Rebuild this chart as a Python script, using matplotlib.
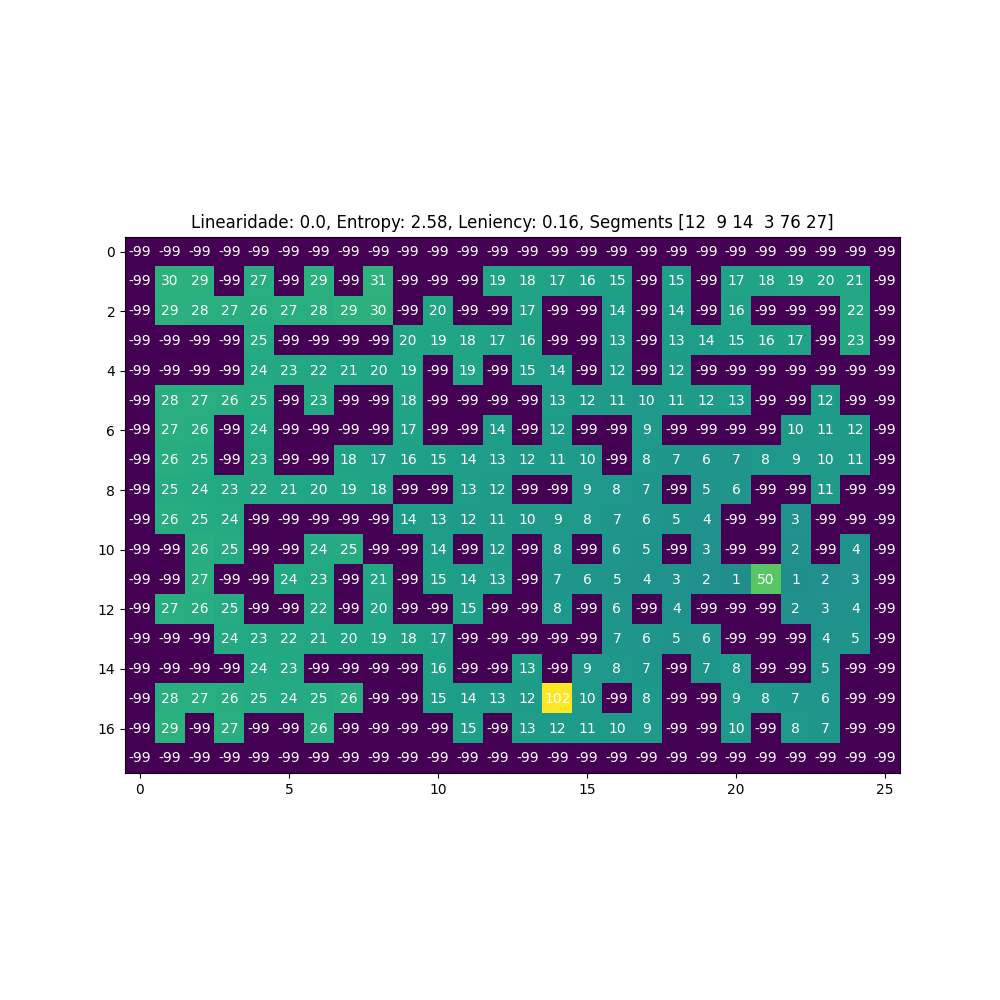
import numpy as np
import matplotlib
matplotlib.use("Agg")
import matplotlib.pyplot as plt

row00 = [-99]*26
row01 = [-99, 30, 29, -99, 27, -99, 29, -99, 31, -99, -99, -99, 19, 18, 17, 16, 15, -99, 15, -99, 17, 18, 19, 20, 21, -99]
row02 = [-99, 29, 28, 27, 26, 27, 28, 29, 30, -99, 20, -99, -99, 17, -99, -99, 14, -99, 14, -99, 16, -99, -99, -99, 22, -99]
row03 = [-99, -99, -99, -99, 25, -99, -99, -99, -99, 20, 19, 18, 17, 16, -99, -99, 13, -99, 13, 14, 15, 16, 17, -99, 23, -99]
row04 = [-99, -99, -99, -99, 24, 23, 22, 21, 20, 19, -99, 19, -99, 15, 14, -99, 12, -99, 12, -99, -99, -99, -99, -99, -99, -99]
row05 = [-99, 28, 27, 26, 25, -99, 23, -99, -99, 18, -99, -99, -99, -99, 13, 12, 11, 10, 11, 12, 13, -99, -99, 12, -99, -99]
row06 = [-99, 27, 26, -99, 24, -99, -99, -99, -99, 17, -99, -99, 14, -99, 12, -99, -99, 9, -99, -99, -99, -99, 10, 11, 12, -99]
row07 = [-99, 26, 25, -99, 23, -99, -99, 18, 17, 16, 15, 14, 13, 12, 11, 10, -99, 8, 7, 6, 7, 8, 9, 10, 11, -99]
row08 = [-99, 25, 24, 23, 22, 21, 20, 19, 18, -99, -99, 13, 12, -99, -99, 9, 8, 7, -99, 5, 6, -99, -99, 11, -99, -99]
row09 = [-99, 26, 25, 24, -99, -99, -99, -99, -99, 14, 13, 12, 11, 10, 9, 8, 7, 6, 5, 4, -99, -99, 3, -99, -99, -99]
row10 = [-99, -99, 26, 25, -99, -99, 24, 25, -99, -99, 14, -99, 12, -99, 8, -99, 6, 5, -99, 3, -99, -99, 2, -99, 4, -99]
row11 = [-99, -99, 27, -99, -99, 24, 23, -99, 21, -99, 15, 14, 13, -99, 7, 6, 5, 4, 3, 2, 1, 50, 1, 2, 3, -99]
row12 = [-99, 27, 26, 25, -99, -99, 22, -99, 20, -99, -99, 15, -99, -99, 8, -99, 6, -99, 4, -99, -99, -99, 2, 3, 4, -99]
row13 = [-99, -99, -99, 24, 23, 22, 21, 20, 19, 18, 17, -99, -99, -99, -99, -99, 7, 6, 5, 6, -99, -99, -99, 4, 5, -99]
row14 = [-99, -99, -99, -99, 24, 23, -99, -99, -99, -99, 16, -99, -99, 13, -99, 9, 8, 7, -99, 7, 8, -99, -99, 5, -99, -99]
row15 = [-99, 28, 27, 26, 25, 24, 25, 26, -99, -99, 15, 14, 13, 12, 102, 10, -99, 8, -99, -99, 9, 8, 7, 6, -99, -99]
row16 = [-99, 29, -99, 27, -99, -99, 26, -99, -99, -99, -99, 15, -99, 13, 12, 11, 10, 9, -99, -99, 10, -99, 8, 7, -99, -99]
row17 = [-99]*26

title = "Linearidade: 0.0, Entropy: 2.58, Leniency: 0.16, Segments [12  9 14  3 76 27]"

grid = np.array([row00, row01, row02, row03, row04, row05, row06, row07, row08,
                 row09, row10, row11, row12, row13, row14, row15, row16, row17])

fig, ax = plt.subplots(figsize=(10, 10), dpi=100)
ax.imshow(grid, cmap="viridis")
for i in range(grid.shape[0]):
    for j in range(grid.shape[1]):
        ax.text(j, i, str(grid[i, j]), ha="center", va="center", color="w", fontsize=10)
ax.set_title(title)
fig.savefig("out.png", dpi=100)
